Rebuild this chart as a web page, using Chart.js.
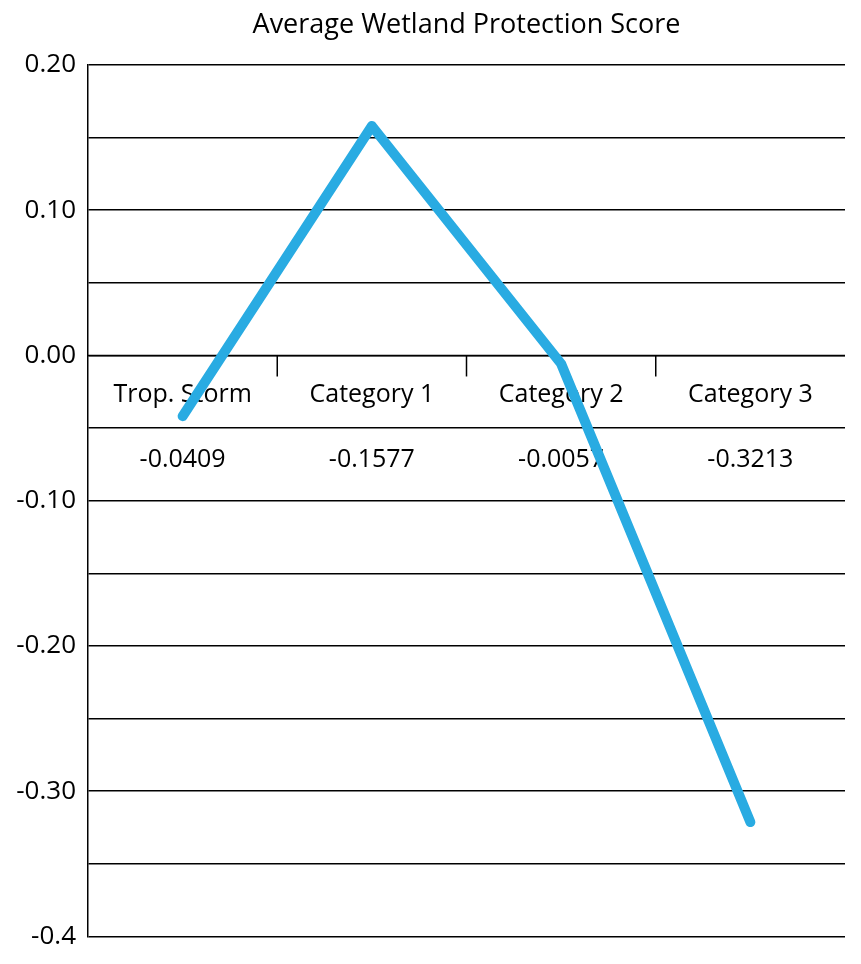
<!DOCTYPE html>
<html><head><meta charset="utf-8">
<script src="https://cdn.jsdelivr.net/npm/chart.js@4"></script>
<style>html,body{margin:0;padding:0;background:#fff}#w{width:861px;height:964px}</style>
</head><body><div id="w"><canvas id="c"></canvas></div>
<script>
const categories = ["Trop. Storm", "Category 1", "Category 2", "Category 3"];
const values = [-0.0418, 0.158, -0.0057, -0.3213];
const tableValues = ["-0.0409", "-0.1577", "-0.0057", "-0.3213"];
const titleText = "Average Wetland Protection Score";
const FONT = "'Open Sans', sans-serif";

const zeroAxis = {
  id: 'zeroAxis',
  beforeDatasetsDraw(chart) {
    const {ctx, chartArea, scales} = chart;
    const y0 = scales.y.getPixelForValue(0);
    const x = scales.x;
    ctx.save();
    ctx.strokeStyle = '#000'; ctx.lineWidth = 1.5;
    ctx.beginPath(); ctx.moveTo(chartArea.left, y0); ctx.lineTo(chartArea.right, y0); ctx.stroke();
    const step = (chartArea.right - chartArea.left) / categories.length;
    for (let i = 1; i < categories.length; i++) {
      const bx = chartArea.left + step * i;
      ctx.beginPath(); ctx.moveTo(bx, y0); ctx.lineTo(bx, y0 + 21); ctx.stroke();
    }
    ctx.fillStyle = '#000'; ctx.textAlign = 'center'; ctx.textBaseline = 'middle';
    ctx.font = "25px " + FONT;
    categories.forEach((c, i) => {
      const cx = x.getPixelForValue(i);
      ctx.fillText(c, cx, y0 + 39);
      ctx.fillText(tableValues[i], cx, y0 + 104);
    });
    ctx.font = "27px " + FONT;
    ctx.fillText(titleText, (chartArea.left + chartArea.right) / 2, 25);
    ctx.restore();
  }
};

new Chart(document.getElementById('c'), {
  type: 'line',
  data: { labels: categories, datasets: [{ data: values, borderColor: '#29abe2', borderWidth: 10,
    pointRadius: 0, tension: 0, borderCapStyle: 'round', borderJoinStyle: 'round' }] },
  options: {
    responsive: true, maintainAspectRatio: false, animation: false,
    layout: { padding: { right: 16, bottom: 8, left: 0, top: 65 } },
    plugins: { legend: { display: false }, tooltip: { enabled: false }, title: { display: false } },
    scales: {
      x: { display: false, offset: true },
      y: {
        min: -0.4, max: 0.2,
        afterFit(s) { s.width = 88; },
        border: { display: true, color: '#000', width: 1.5 },
        grid: { color: '#000', lineWidth: 1.5, drawTicks: false },
        ticks: { stepSize: 0.05, color: '#000', padding: 12, font: { family: FONT, size: 26 },
          callback(v) {
            const r = Math.round(v * 100);
            if (r % 10 !== 0) return '';
            if (r === -40) return '-0.4';
            return (r / 100).toFixed(2);
          } }
      }
    }
  },
  plugins: [zeroAxis]
});
</script></body></html>
